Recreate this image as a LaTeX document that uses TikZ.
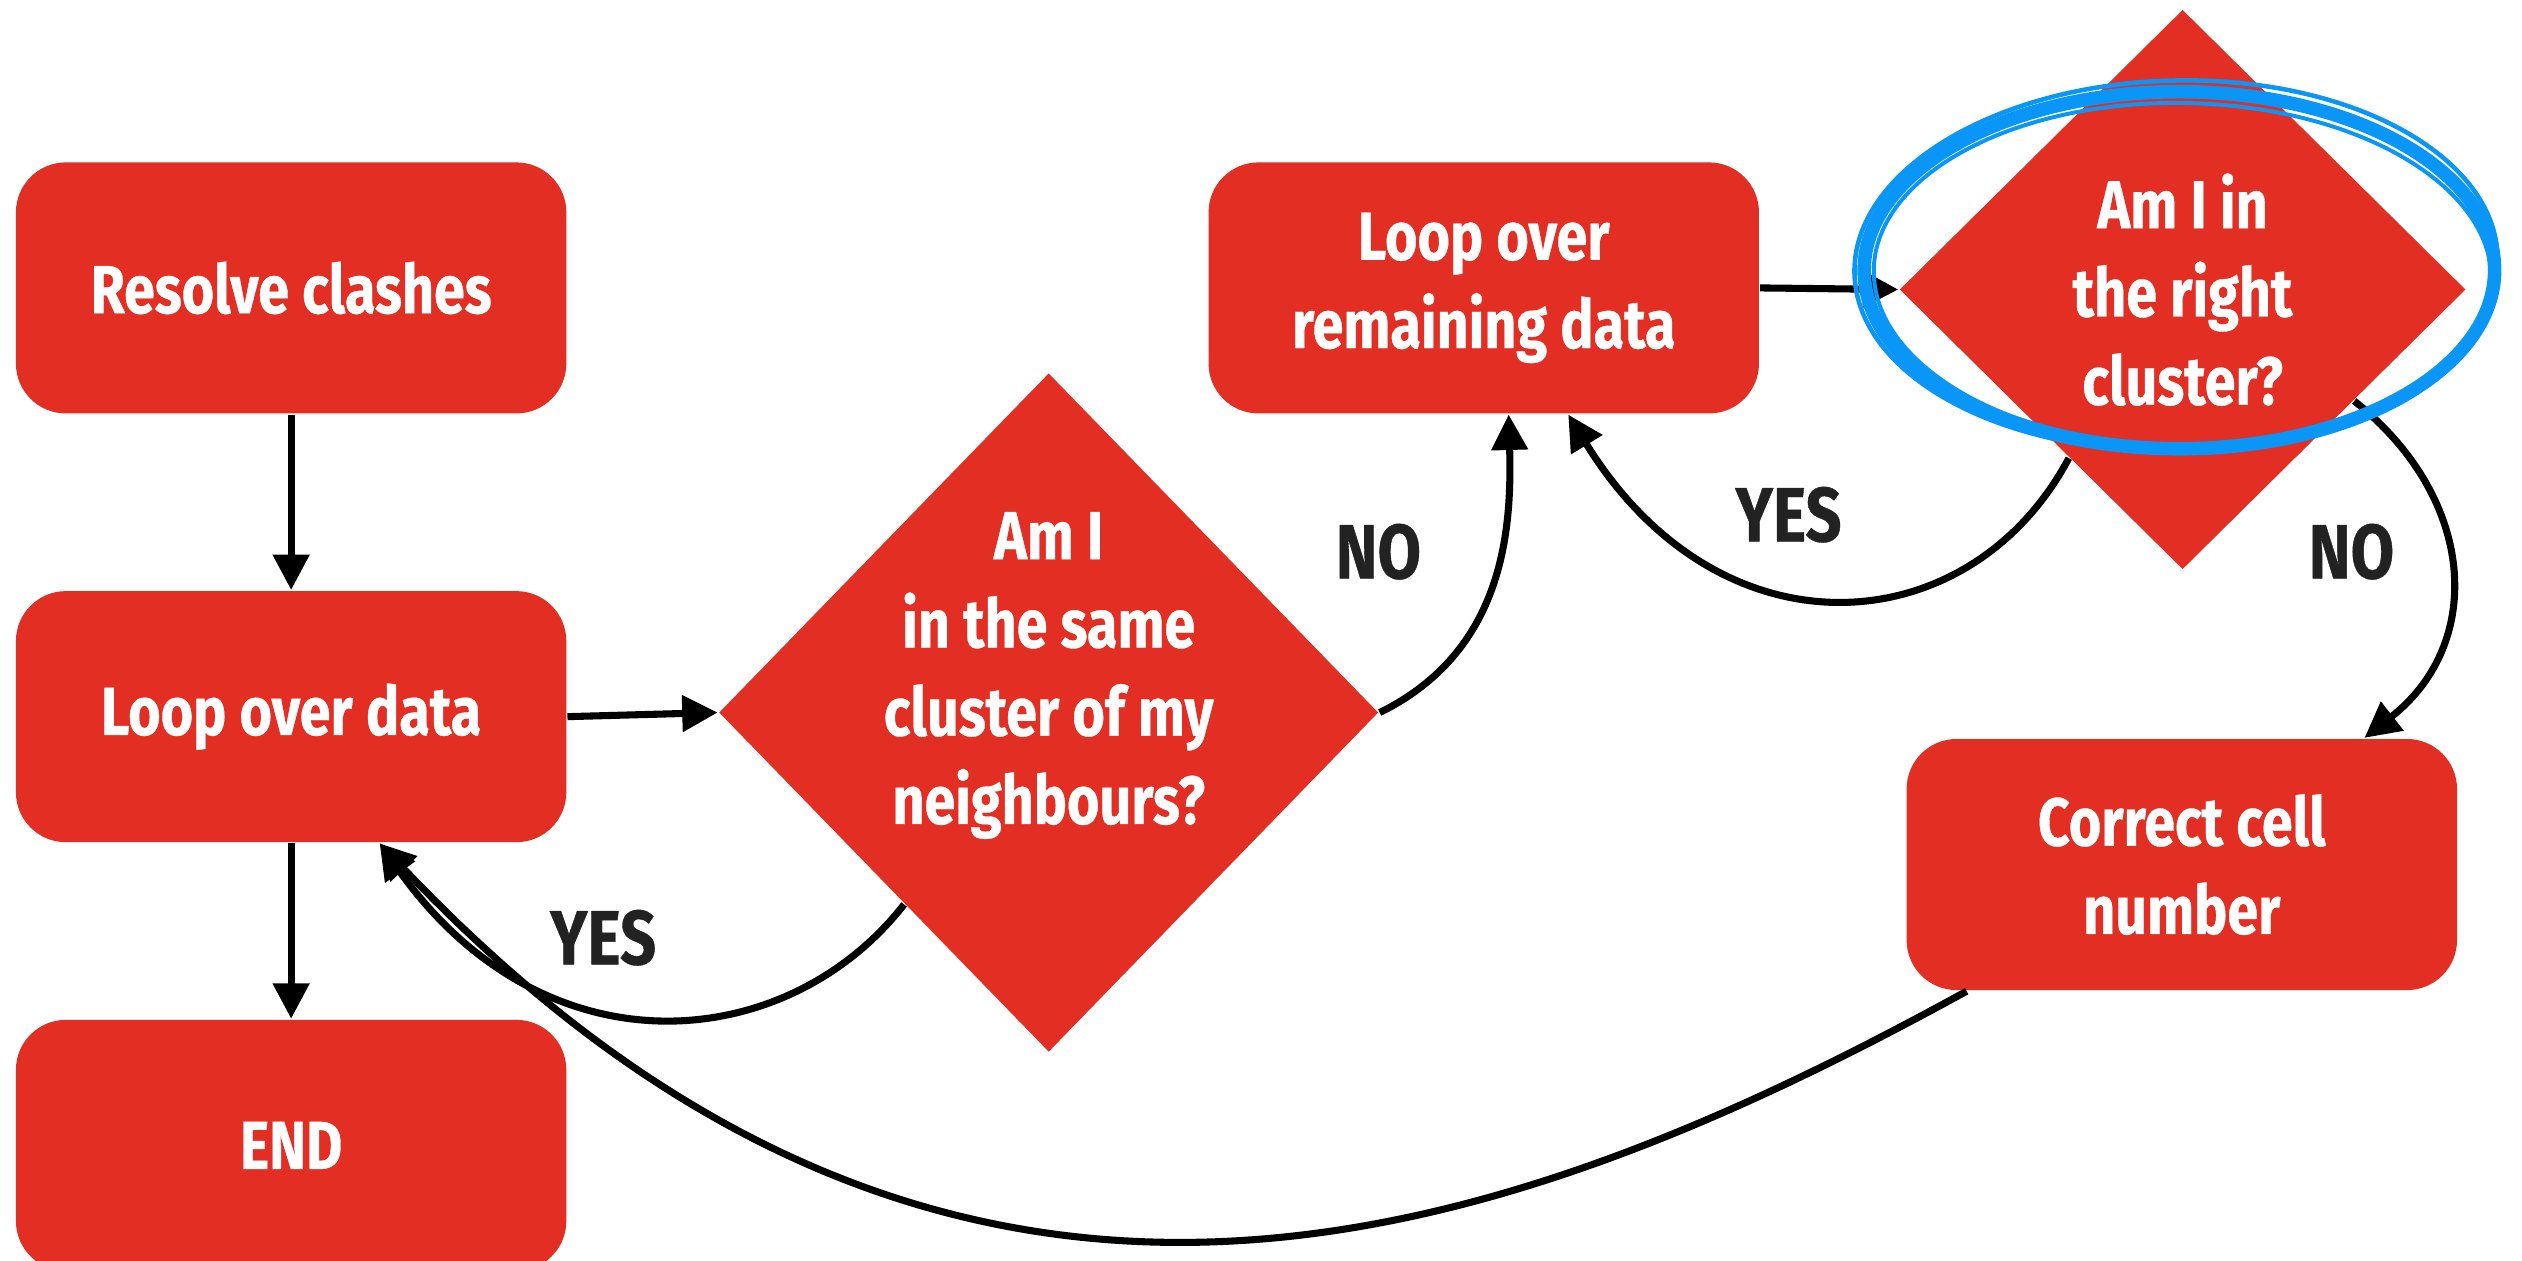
\documentclass[tikz,border=0pt]{standalone}
\usepackage{fontspec}
\setmainfont{Fira Sans}[FakeStretch=0.82, BoldFeatures={FakeBold=0.5}]
\usetikzlibrary{arrows.meta,positioning,shapes.geometric}

\definecolor{flowred}{RGB}{227,46,36}
\definecolor{labelgrey}{RGB}{34,34,34}
\definecolor{markblue}{RGB}{10,150,247}

\begin{document}
\begin{tikzpicture}[
x=0.01cm, y=-0.01cm,
node distance=1.09cm,
box/.style={fill=flowred, rounded corners=0.31cm, align=center, text=white, font=\bfseries\fontsize{12}{15.6}\selectfont, minimum width=3.42cm, minimum height=1.56cm, inner sep=0pt},
decision/.style={diamond, fill=flowred, inner sep=0pt},
qtext/.style={text=white, align=center, font=\bfseries\fontsize{12}{15.6}\selectfont},
answer/.style={text=labelgrey, font=\bfseries\fontsize{13.6}{16}\selectfont},
arrow/.style={-{Triangle[length=0.22cm, width=0.22cm]}, line width=1.25pt},
highlight/.style={draw=markblue, line cap=round}
]
\useasboundingbox (0,0) rectangle (1568,784);

\node[box] (res) at (181,179) {Resolve clashes};
\node[box, below=of res] (loop) {Loop over data};
\node[box, below=of loop] (end) {END};
\node[decision, minimum width=4.10cm, minimum height=4.22cm, label={[qtext, yshift=0.23cm]center:Am I\\in the same\\cluster of my\\neighbours?}] (same) at (652,443) {};
\node[box] (rem) at (922.5,179) {Loop over\\remaining data};
\node[decision, minimum width=3.52cm, minimum height=3.48cm, label={[qtext]center:Am I in\\the right\\cluster?}] (right) at (1357,180) {};
\node[box] (cell) at (1356.5,537.5) {Correct cell\\number};

\draw[arrow] (res) -- (loop);
\draw[arrow] (loop.east) -- (same.west);
\draw[arrow] (loop) -- (end);
\draw[arrow] (same.233) .. controls (490,655) and (340,670) .. ([xshift=0.55cm]loop.south);
\draw[arrow] (same.east) .. controls (935,405) and (940,330) .. ([xshift=0.155cm]rem.south);
\draw[arrow] (rem.east) -- (right.west);
\draw[arrow] (right.236) .. controls (1225,400) and (1070,412) .. ([xshift=0.525cm]rem.south);
\draw[arrow] (right.327) .. controls (1540,310) and (1545,400) .. ([xshift=1.135cm]cell.north);
\draw[arrow] ([xshift=0.38cm]cell.south west) .. controls (923,781) and (586,893) .. ([xshift=0.55cm]loop.south);

\node[answer] (yes1) at (375,583) {YES};
\node[answer] (no1) at (857,343) {NO};
\node[answer] (yes2) at (1112,320) {YES};
\node[answer] (no2) at (1462,343) {NO};

% hand-drawn ring round the second question
\draw[highlight, line width=2.4pt] (1355,168) ellipse [x radius=196, y radius=111];
\draw[highlight, line width=0.8pt, rotate around={1.5:(1355,168)}] (1353,165) ellipse [x radius=200, y radius=115];
\draw[highlight, line width=0.7pt, rotate around={-1:(1355,168)}] (1357,171) ellipse [x radius=192, y radius=107];
\end{tikzpicture}
\end{document}
